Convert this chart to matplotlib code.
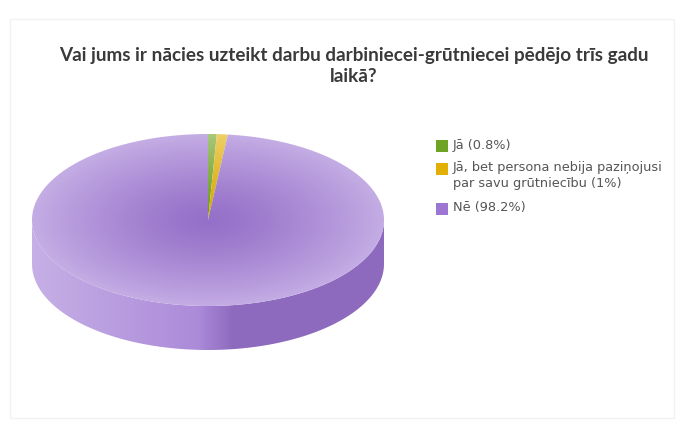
import numpy as np
import matplotlib

matplotlib.use("Agg")
import matplotlib.pyplot as plt
from matplotlib.colors import to_rgb
from matplotlib.patches import Polygon, Rectangle

title = "Vai jums ir nācies uzteikt darbu darbiniecei-grūtniecei pēdējo trīs gadu\nlaikā?"
labels = ["Jā", "Jā, bet persona nebija paziņojusi\npar savu grūtniecību", "Nē"]
shares = [0.8, 1.0, 98.2]
colors = ["#6fa324", "#e2b004", "#9d76d3"]

W, H = 698, 432
CX, CY = 208, 220      # centre of the top face
RX, RY = 176, 86       # radii of the top ellipse
DEPTH = 44             # thickness of the disc


def mix(c, other, t):
    a, b = np.array(to_rgb(c)), np.array(to_rgb(other))
    return (1 - t) * a + t * b


def top_point(theta):
    # theta measured clockwise from 12 o'clock
    return CX + RX * np.sin(theta), CY - RY * np.cos(theta)


fig = plt.figure(figsize=(W / 100, H / 100), dpi=100)
ax = fig.add_axes([0, 0, 1, 1])
ax.set_xlim(0, W)
ax.set_ylim(H, 0)
ax.axis("off")

ax.add_patch(Rectangle((10, 19), 664, 399, fill=False, ec="#f2f2f2", lw=1.0))

fracs = np.array(shares) / np.sum(shares)
edges = np.concatenate([[0], np.cumsum(fracs)]) * 2 * np.pi

yy, xx = np.mgrid[0:H, 0:W]
radial = np.clip(np.hypot((xx - CX) / RX, (yy - CY) / RY), 0, 1)
horiz = np.clip((xx - (CX - RX)) / (2 * RX), 0, 1)

# side wall: visible where the outline runs along the front half
for start, end, col in zip(edges[:-1], edges[1:], colors):
    lo, hi = max(start, np.pi / 2), min(end, 3 * np.pi / 2)
    if hi <= lo:
        continue
    t = np.linspace(lo, hi, 120)
    px, py = top_point(t)
    verts = np.vstack([np.column_stack([px, py]),
                       np.column_stack([px[::-1], py[::-1] + DEPTH])])
    poly = Polygon(verts, closed=True, fc="none", ec="none")
    ax.add_patch(poly)
    light = mix(col, "white", 0.42)
    mid = mix(col, "white", 0.15)
    dark = mix(col, "black", 0.1)
    w = horiz[..., None]
    shade = np.where(w < 0.47,
                     light + (mid - light) * (w / 0.47),
                     mid + (dark - mid) * np.clip((w - 0.47) / 0.1, 0, 1))
    img = ax.imshow(shade, extent=(0, W, H, 0), origin="upper", zorder=2)
    img.set_clip_path(poly)

# top face with a soft radial shading
for start, end, col in zip(edges[:-1], edges[1:], colors):
    t = np.linspace(start, end, max(4, int(200 * (end - start))))
    px, py = top_point(t)
    verts = np.vstack([[CX, CY], np.column_stack([px, py])])
    poly = Polygon(verts, closed=True, fc="none", ec="none")
    ax.add_patch(poly)
    inner = mix(col, "black", 0.05)
    outer = mix(col, "white", 0.4)
    r = radial[..., None] ** 1.3
    shade = inner + (outer - inner) * r
    img = ax.imshow(shade, extent=(0, W, H, 0), origin="upper", zorder=3)
    img.set_clip_path(poly)

ax.text(354, 66, title, ha="center", va="center", fontsize=13.6,
        fontweight="bold", color="#3a3a3a", family="Lato", linespacing=1.25)

# legend
y = 146
for lab, share, col in zip(labels, shares, colors):
    ax.add_patch(Rectangle((436, y - 6), 12, 12, fc=col, ec="none", zorder=4))
    txt = f"{lab} ({share:g}%)"
    ax.text(453, y - 7.5, txt, ha="left", va="top", fontsize=9.3,
            color="#555555", family="DejaVu Sans", linespacing=1.3)
    y += 23 + 17 * txt.count("\n")

fig.savefig("out.png", dpi=100)
